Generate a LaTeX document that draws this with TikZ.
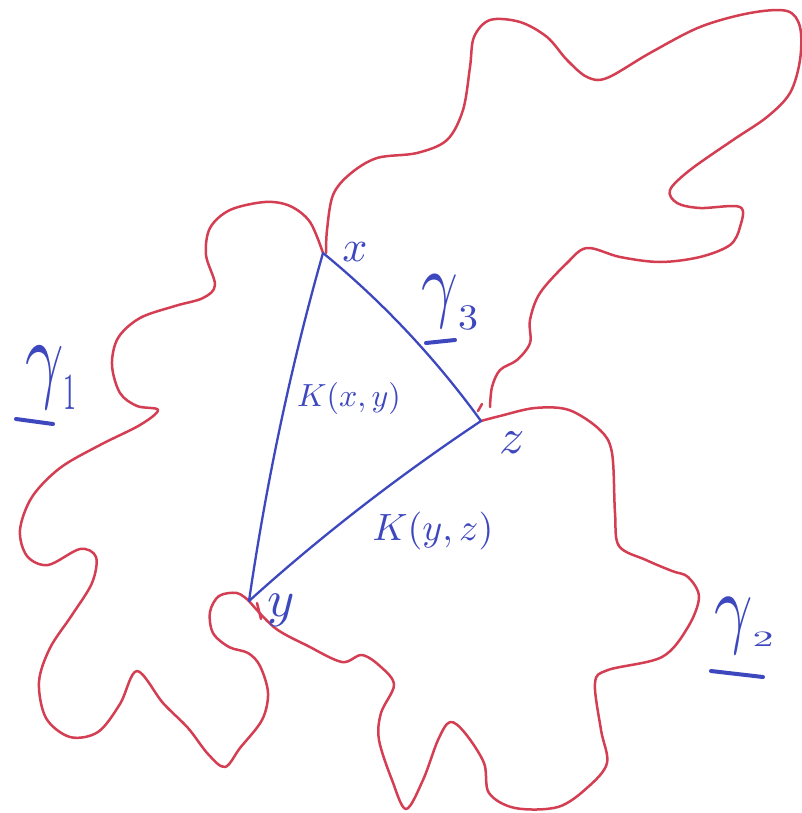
\documentclass[tikz,border=0pt]{standalone}
\usepackage{graphicx}
\usepackage{xcolor}
\definecolor{penred}{RGB}{212,62,82}
\definecolor{penblue}{RGB}{62,72,190}
\begin{document}
\begin{tikzpicture}[x=1pt,y=-1pt,
  redline/.style={draw=penred,line width=2.5pt,line cap=round,line join=round},
  blueline/.style={draw=penblue,line width=2.3pt,line cap=round},
  lbl/.style={text=penblue,inner sep=0pt,font=\fontsize{10}{10}\selectfont},
  uline/.style={draw=penblue,line width=4pt,line cap=round}]
\useasboundingbox[fill=white] (0,0) rectangle (802,813);
\coordinate (X) at (323,253);
\coordinate (Y) at (249,601);
\coordinate (Z) at (481,421);
% gamma 1
\draw[redline] plot[smooth,tension=0.55] coordinates {(X) (310,222) (290,206) (265,202) (230,210) (210,228) (206,255) (215,285) (203,298) (175,306) (140,318) (118,338) (112,365) (120,393) (137,406) (158,410) (140,425) (100,445) (60,468) (32,497) (20,530) (27,556) (48,565) (80,549) (96,557) (92,583) (72,615) (50,648) (39,682) (46,718) (70,737) (98,732) (120,704) (137,671) (163,703) (188,728) (208,754) (225,767) (240,748) (262,720) (268,693) (260,666) (248,653) (229,647) (213,633) (210,612) (219,596) (237,593) (Y)};
% gamma 2
\draw[redline] plot[smooth,tension=0.55] coordinates {(Y) (275,628) (308,646) (342,662) (362,655) (381,667) (394,685) (381,713) (379,740) (392,780) (406,809) (423,780) (438,740) (450,722) (465,733) (484,763) (489,793) (515,808) (558,807) (588,787) (607,763) (601,730) (595,683) (608,670) (662,657) (688,627) (699,597) (688,577) (672,571) (646,560) (619,546) (615,513) (612,453) (600,430) (569,410) (535,408) (500,416) (Z)};
% gamma 3
\draw[redline] plot[smooth,tension=0.55] coordinates {(326,253) (327,230) (333,195) (350,174) (377,158) (417,153) (447,140) (463,110) (470,67) (474,37) (490,20) (520,22) (547,37) (567,60) (587,77) (607,78) (650,53) (700,27) (750,13) (787,11) (800,27) (800,60) (790,93) (767,117) (733,140) (690,170) (670,190) (677,203) (700,208) (740,207) (740,227) (730,245) (700,257) (660,262) (620,257) (587,248) (567,263) (540,293) (530,320) (530,343) (517,360) (500,370) (492,387) (490,407)};
\draw[redline] (478,411) -- (482,404);
\draw[redline] (257,603) -- (261,619);
% triangle
\draw[blueline] (X) .. controls (290,369) and (266,485) .. (Y);
\draw[blueline] (Y) .. controls (322,535) and (400,475) .. (Z);
\draw[blueline] (Z) .. controls (436,359) and (383,302) .. (X);
% labels
\node[lbl] (lx) at (355,252) {\scalebox{4.4}{$x$}};
\node[lbl] (ly) at (281,610) {\scalebox{5.2}{$y$}};
\node[lbl] (lz) at (512,443) {\scalebox{5}{$z$}};
\node[lbl] (kxy) at (349,398) {\scalebox{3.2}{$K(x,y)$}};
\node[lbl] (kyz) at (433,531) {\scalebox{3.8}{$K(y,z)$}};
\node[lbl] (g1) at (51,378) {\scalebox{6.7}[10]{$\gamma$}\raisebox{-20pt}{\scalebox{2.6}[5.2]{1}}};
\draw[uline] (16,419) -- (53,424);
\node[lbl] (g3) at (450,303) {\scalebox{6.4}[8.5]{$\gamma$}\raisebox{-18pt}{\scalebox{4}[3.6]{3}}};
\draw[uline] (426,343) -- (455,340);
\node[lbl] (g2) at (744,626) {\scalebox{6.7}[9]{$\gamma$}\raisebox{-10pt}{\scalebox{4.2}[2.2]{2}}};
\draw[uline] (711,671) -- (763,677);
\end{tikzpicture}
\end{document}
